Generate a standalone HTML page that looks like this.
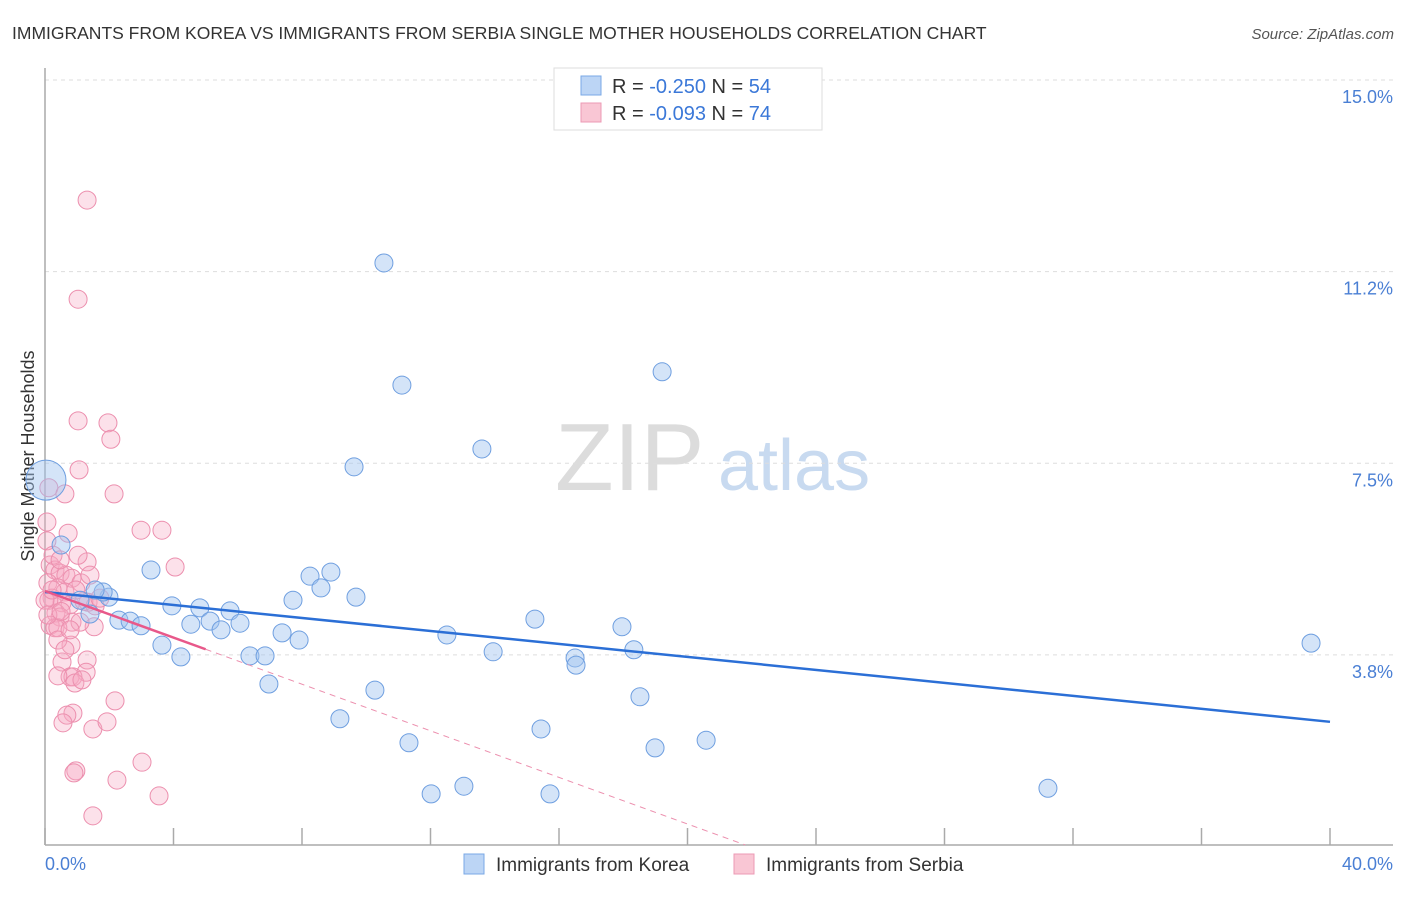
<!DOCTYPE html>
<html><head><meta charset="utf-8"><style>
body{margin:0;background:#fff;font-family:"Liberation Sans",sans-serif;}
svg text{font-family:"Liberation Sans",sans-serif;}
</style></head><body>
<svg id="chart" width="1406" height="892" viewBox="0 0 1406 892">
<text x="12" y="39" font-size="17.5" fill="#333">IMMIGRANTS FROM KOREA VS IMMIGRANTS FROM SERBIA SINGLE MOTHER HOUSEHOLDS CORRELATION CHART</text>
<text x="1394" y="39" font-size="15" fill="#555" text-anchor="end" font-style="italic">Source: ZipAtlas.com</text>
<g>
<text x="555" y="490" font-size="96" fill="#dcdcdc" font-family="Liberation Serif, serif">ZIP</text>
<text x="718" y="490" font-size="72" fill="#c8daf0">atlas</text>
</g>
<g id="grid"></g>
<line x1="45" y1="68" x2="45" y2="845" stroke="#aaa" stroke-width="1.5"/>
<line x1="45" y1="845" x2="1393" y2="845" stroke="#aaa" stroke-width="1.5"/>
<g id="xticks"></g>
<g id="ylabels"></g>
<text x="45" y="870" font-size="18" fill="#4a7fd4">0.0%</text>
<text x="1393" y="870" font-size="18" fill="#4a7fd4" text-anchor="end">40.0%</text>
<text transform="translate(34,456) rotate(-90)" font-size="18" fill="#333" text-anchor="middle">Single Mother Households</text>
<g id="serbia"></g>
<g id="korea"></g>
<g id="lines"></g>
<g>
<rect x="554" y="68" width="268" height="62" fill="#fff" stroke="#ddd"/>
<rect x="581" y="76" width="20" height="19" fill="#bcd5f5" stroke="#7aa8e6"/>
<text x="612" y="93" font-size="20" fill="#333">R = <tspan fill="#3b78d8">-0.250</tspan>   N = <tspan fill="#3b78d8">54</tspan></text>
<rect x="581" y="103" width="20" height="19" fill="#f9c6d4" stroke="#ec9ab4"/>
<text x="612" y="120" font-size="20" fill="#333">R = <tspan fill="#3b78d8">-0.093</tspan>   N = <tspan fill="#3b78d8">74</tspan></text>
</g>
<g>
<rect x="464" y="854" width="20" height="20" fill="#bcd5f5" stroke="#7aa8e6"/>
<text x="496" y="871" font-size="19" fill="#333">Immigrants from Korea</text>
<rect x="734" y="854" width="20" height="20" fill="#f9c6d4" stroke="#ec9ab4"/>
<text x="766" y="871" font-size="19" fill="#333">Immigrants from Serbia</text>
</g>
</svg>
<script>
const yTicks=[15,11.25,7.5,3.75];
const yTickLabels=["15.0%","11.2%","7.5%","3.8%"];
const xTicks=[0,4,8,12,16,20,24,28,32,36,40];
const koreaX=[10.55,11.11,19.21,13.60,9.62,0.03,0.50,3.30,8.25,8.90,8.59,9.68,7.72,3.95,4.82,5.76,1.99,1.81,2.30,2.65,2.99,4.54,5.14,5.48,6.07,7.38,7.91,3.64,4.23,6.38,6.85,6.97,10.27,12.51,13.95,15.25,16.50,16.53,17.96,18.33,18.52,9.18,11.33,15.44,18.99,20.58,12.02,13.04,15.72,31.22,39.41,1.40,1.09,1.56];
const koreaY=[11.42,9.03,9.29,7.78,7.43,7.17,5.90,5.41,5.29,5.37,5.06,4.88,4.82,4.71,4.67,4.61,4.88,4.98,4.43,4.41,4.32,4.35,4.41,4.24,4.37,4.18,4.04,3.94,3.71,3.73,3.73,3.18,3.06,4.14,3.81,4.45,3.69,3.55,4.30,3.85,2.93,2.50,2.03,2.30,1.93,2.08,1.03,1.18,1.03,1.14,3.98,4.55,4.82,5.02];
const serbiaX=[1.31,1.03,1.03,1.96,2.05,1.06,0.12,0.62,2.15,0.06,0.72,2.99,3.64,0.06,1.31,4.05,0.16,0.31,0.47,0.65,0.84,0.09,0.40,0.62,0.22,0.53,0.78,1.12,1.34,1.56,0.34,0.47,0.84,0.16,0.31,0.40,1.53,1.09,0.81,0.53,1.31,1.28,0.78,0.87,0.40,0.93,2.18,0.87,0.68,0.56,1.49,1.93,0.96,0.90,2.24,3.02,3.55,1.49,1.21,0.96,0.25,0.12,0.40,0.78,1.71,1.40,0,0.09,0.62,1.15,0.22,0.47,1.03,0.50];
const serbiaY=[12.65,10.71,8.33,8.29,7.97,7.37,7.02,6.90,6.90,6.35,6.13,6.19,6.19,5.98,5.57,5.47,5.51,5.41,5.35,5.31,5.25,5.16,5.06,4.98,4.86,4.77,4.73,5.16,4.78,4.71,4.57,4.49,4.39,4.33,4.28,4.28,4.30,4.39,3.94,3.61,3.65,3.41,3.32,3.32,3.34,3.20,2.85,2.61,2.57,2.42,2.30,2.44,1.48,1.44,1.30,1.65,0.99,0.60,4.80,5.02,5.70,4.82,4.04,4.24,4.86,5.31,4.82,4.53,3.85,3.26,5.02,5.61,5.70,4.60];
const koreaTrend=[4.98,2.44];
const serbiaTrend=[5.0,-0.228];
const NS="http://www.w3.org/2000/svg";
const X=v=>45+v*32.125, Y=v=>80+(15-v)*51.1;
function mk(t,p,a){const e=document.createElementNS(NS,t);for(const k in a)e.setAttribute(k,a[k]);p.appendChild(e);return e;}
const grid=document.getElementById('grid'),yl=document.getElementById('ylabels'),xt=document.getElementById('xticks');
yTicks.forEach((t,i)=>{
const l=mk('line',grid,{x1:45,x2:1393,y1:Y(t),y2:Y(t),stroke:'#ddd','stroke-dasharray':'4,4'});


const tx=mk('text',yl,{x:1393,y:Y(t)+23,'font-size':18,fill:'#4a7fd4','text-anchor':'end'});
tx.textContent=yTickLabels[i];


});
xTicks.forEach(t=>{
const l=mk('line',xt,{x1:X(t),x2:X(t),y1:828,y2:845,stroke:'#aaa','stroke-width':1.5});


});
const sg=document.getElementById('serbia');
serbiaX.forEach((x,i)=>{
const c=mk('circle',sg,{cx:X(x),cy:Y(serbiaY[i]),r:9,fill:'rgba(246,170,194,0.35)',stroke:'#ec8fae','stroke-width':1});


});
const kg=document.getElementById('korea');
koreaX.forEach((x,i)=>{
const c=mk('circle',kg,{cx:X(x),cy:Y(koreaY[i]),r:i==5?20:9,fill:'rgba(160,196,240,0.45)',stroke:'#6f9fe0','stroke-width':1});


});
const lg=document.getElementById('lines');
const kl=mk('line',lg,{x1:X(0),y1:Y(koreaTrend[0]),x2:X(40),y2:Y(koreaTrend[1]),stroke:'#2b6fd6','stroke-width':2.5});


const sEnd=(serbiaTrend[0]-0.03)/-serbiaTrend[1];
const sd=mk('line',lg,{x1:X(5),y1:Y(serbiaTrend[0]+serbiaTrend[1]*5),x2:X(sEnd),y2:Y(serbiaTrend[0]+serbiaTrend[1]*sEnd),stroke:'#ec8fae','stroke-width':1,'stroke-dasharray':'6,5'});


const sl=mk('line',lg,{x1:X(0),y1:Y(serbiaTrend[0]),x2:X(5),y2:Y(serbiaTrend[0]+serbiaTrend[1]*5),stroke:'#e8588a','stroke-width':2.5});


</script>
</body></html>
